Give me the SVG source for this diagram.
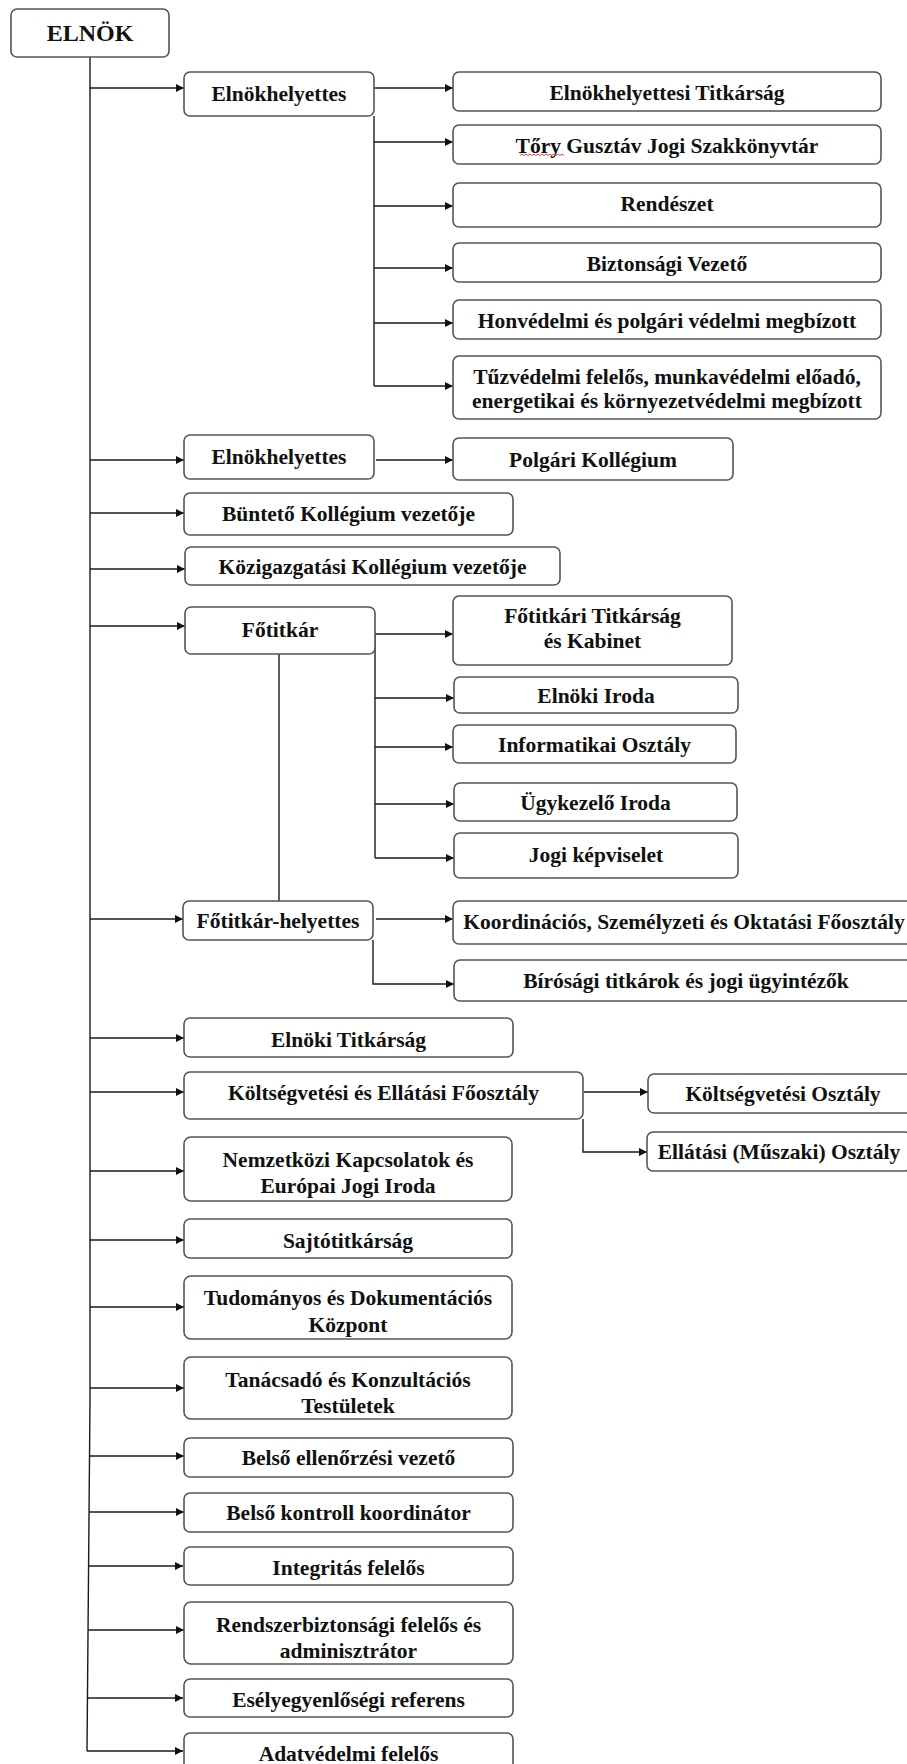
<svg xmlns="http://www.w3.org/2000/svg" width="907" height="1764" viewBox="0 0 907 1764">
<style>
  .b{fill:#fff;stroke:#555;stroke-width:1.6}
  .t{font-family:"Liberation Serif","Times New Roman","DejaVu Serif",serif;font-weight:bold;font-size:21.5px;fill:#111;text-anchor:middle}
  .big{font-size:24px}
  .c{fill:none;stroke:#1a1a1a;stroke-width:1.4}
</style>
<defs>
  <marker id="ah" viewBox="0 0 10 10" refX="10" refY="5" markerWidth="9" markerHeight="8" markerUnits="userSpaceOnUse" orient="auto">
    <path d="M0,0 L10,5 L0,10 z" fill="#111"/>
  </marker>
</defs>
<rect width="907" height="1764" fill="#fff"/>

<g id="connectors">
  <path class="c" d="M90,57 V1400 L87,1751"/>
  <path class="c" d="M90,88 H184" marker-end="url(#ah)"/>
  <path class="c" d="M90,460 H184" marker-end="url(#ah)"/>
  <path class="c" d="M90,513 H184" marker-end="url(#ah)"/>
  <path class="c" d="M90,569 H185" marker-end="url(#ah)"/>
  <path class="c" d="M90,626 H185" marker-end="url(#ah)"/>
  <path class="c" d="M90,919 H183" marker-end="url(#ah)"/>
  <path class="c" d="M90,1038 H184" marker-end="url(#ah)"/>
  <path class="c" d="M90,1092 H184" marker-end="url(#ah)"/>
  <path class="c" d="M90,1171 H184" marker-end="url(#ah)"/>
  <path class="c" d="M90,1240 H184" marker-end="url(#ah)"/>
  <path class="c" d="M90,1307 H184" marker-end="url(#ah)"/>
  <path class="c" d="M90,1388 H184" marker-end="url(#ah)"/>
  <path class="c" d="M89.5,1456 H184" marker-end="url(#ah)"/>
  <path class="c" d="M89,1512 H184" marker-end="url(#ah)"/>
  <path class="c" d="M89,1566 H183" marker-end="url(#ah)"/>
  <path class="c" d="M88,1630 H184" marker-end="url(#ah)"/>
  <path class="c" d="M87,1698 H183" marker-end="url(#ah)"/>
  <path class="c" d="M87,1751 H183" marker-end="url(#ah)"/>

  <path class="c" d="M374,116 V386"/>
  <path class="c" d="M374,88 H453" marker-end="url(#ah)"/>
  <path class="c" d="M374,142 H453" marker-end="url(#ah)"/>
  <path class="c" d="M374,206 H453" marker-end="url(#ah)"/>
  <path class="c" d="M374,268 H453" marker-end="url(#ah)"/>
  <path class="c" d="M374,323 H453" marker-end="url(#ah)"/>
  <path class="c" d="M374,386 H453" marker-end="url(#ah)"/>

  <path class="c" d="M376,460 H453" marker-end="url(#ah)"/>

  <path class="c" d="M279,654 V901"/>
  <path class="c" d="M375,634 V858"/>
  <path class="c" d="M375,634 H453" marker-end="url(#ah)"/>
  <path class="c" d="M375,698 H454" marker-end="url(#ah)"/>
  <path class="c" d="M375,747 H453" marker-end="url(#ah)"/>
  <path class="c" d="M375,804 H454" marker-end="url(#ah)"/>
  <path class="c" d="M375,858 H454" marker-end="url(#ah)"/>

  <path class="c" d="M376,919 H453" marker-end="url(#ah)"/>
  <path class="c" d="M373,940 V984 H454" marker-end="url(#ah)"/>

  <path class="c" d="M584,1092 H648" marker-end="url(#ah)"/>
  <path class="c" d="M583,1119 V1152 H647" marker-end="url(#ah)"/>
</g>

<g id="elnok"><rect class="b" x="11" y="9" width="158" height="48" rx="6"/><text class="t big" x="90" y="41">ELNÖK</text></g>

<g id="elnokhelyettes1"><rect class="b" x="184" y="72" width="190" height="44" rx="6"/><text class="t" x="279" y="101">Elnökhelyettes</text></g>
<g id="eh-titkarsag"><rect class="b" x="453" y="72" width="428" height="39" rx="6"/><text class="t" x="667" y="99.5">Elnökhelyettesi Titkárság</text></g>
<g id="tory"><rect class="b" x="453" y="125" width="428" height="39" rx="6"/><text class="t" x="667" y="152.5">Tőry Gusztáv Jogi Szakkönyvtár</text><path d="M520,155.5 l2,-1.5 l2,1.5 l2,-1.5 l2,1.5 l2,-1.5 l2,1.5 l2,-1.5 l2,1.5 l2,-1.5 l2,1.5 l2,-1.5 l2,1.5 l2,-1.5 l2,1.5 l2,-1.5 l2,1.5 l2,-1.5 l2,1.5 l2,-1.5 l2,1.5 l2,-1.5 l2,1.5" fill="none" stroke="#d03030" stroke-width="0.9"/></g>
<g id="rendeszet"><rect class="b" x="453" y="183" width="428" height="44" rx="6"/><text class="t" x="667" y="211">Rendészet</text></g>
<g id="biztonsagi"><rect class="b" x="453" y="243" width="428" height="39" rx="6"/><text class="t" x="667" y="271">Biztonsági Vezető</text></g>
<g id="honvedelmi"><rect class="b" x="453" y="300" width="428" height="39" rx="6"/><text class="t" x="667" y="328">Honvédelmi és polgári védelmi megbízott</text></g>
<g id="tuzvedelmi"><rect class="b" x="453" y="356" width="428" height="63" rx="6"/><text class="t" x="667" y="384">Tűzvédelmi felelős, munkavédelmi előadó,</text><text class="t" x="667" y="408">energetikai és környezetvédelmi megbízott</text></g>

<g id="elnokhelyettes2"><rect class="b" x="184" y="435" width="190" height="44" rx="6"/><text class="t" x="279" y="464">Elnökhelyettes</text></g>
<g id="polgari"><rect class="b" x="453" y="438" width="280" height="42" rx="6"/><text class="t" x="593" y="467">Polgári Kollégium</text></g>
<g id="bunteto"><rect class="b" x="184" y="493" width="329" height="42" rx="6"/><text class="t" x="348.5" y="521">Büntető Kollégium vezetője</text></g>
<g id="kozigazgatasi"><rect class="b" x="185" y="547" width="375" height="38" rx="6"/><text class="t" x="372.5" y="574">Közigazgatási Kollégium vezetője</text></g>

<g id="fotitkar"><rect class="b" x="185" y="607" width="190" height="47" rx="6"/><text class="t" x="280" y="637">Főtitkár</text></g>
<g id="fotitkari-titkarsag"><rect class="b" x="453" y="596" width="279" height="69" rx="6"/><text class="t" x="592.5" y="623">Főtitkári Titkárság</text><text class="t" x="592.5" y="648">és Kabinet</text></g>
<g id="elnoki-iroda"><rect class="b" x="454" y="677" width="284" height="36" rx="6"/><text class="t" x="596" y="703">Elnöki Iroda</text></g>
<g id="informatikai"><rect class="b" x="453" y="725" width="283" height="38" rx="6"/><text class="t" x="594.5" y="752">Informatikai Osztály</text></g>
<g id="ugykezelo"><rect class="b" x="454" y="783" width="283" height="38" rx="6"/><text class="t" x="595.5" y="810">Ügykezelő Iroda</text></g>
<g id="jogi-kepviselet"><rect class="b" x="454" y="833" width="284" height="45" rx="6"/><text class="t" x="596" y="862">Jogi képviselet</text></g>

<g id="fotitkar-helyettes"><rect class="b" x="183" y="901" width="190" height="39" rx="6"/><text class="t" x="278" y="928">Főtitkár-helyettes</text></g>
<g id="koordinacios"><rect class="b" x="453" y="901" width="462" height="43" rx="6"/><text class="t" x="684" y="929">Koordinációs, Személyzeti és Oktatási Főosztály</text></g>
<g id="birosagi"><rect class="b" x="454" y="960" width="462" height="41" rx="6"/><text class="t" x="686" y="988">Bírósági titkárok és jogi ügyintézők</text></g>

<g id="elnoki-titkarsag"><rect class="b" x="184" y="1018" width="329" height="39" rx="6"/><text class="t" x="348.5" y="1047">Elnöki Titkárság</text></g>
<g id="koltsegvetesi-foosztaly"><rect class="b" x="184" y="1072" width="399" height="47" rx="6"/><text class="t" x="383.5" y="1100">Költségvetési és Ellátási Főosztály</text></g>
<g id="koltsegvetesi-osztaly"><rect class="b" x="648" y="1074" width="270" height="39" rx="6"/><text class="t" x="783" y="1101">Költségvetési Osztály</text></g>
<g id="ellatasi-osztaly"><rect class="b" x="647" y="1132" width="264" height="39" rx="6"/><text class="t" x="779" y="1159">Ellátási (Műszaki) Osztály</text></g>

<g id="nemzetkozi"><rect class="b" x="184" y="1137" width="328" height="64" rx="7"/><text class="t" x="348" y="1167">Nemzetközi Kapcsolatok és</text><text class="t" x="348" y="1193">Európai Jogi Iroda</text></g>
<g id="sajtotitkarsag"><rect class="b" x="184" y="1219" width="328" height="39" rx="6"/><text class="t" x="348" y="1248">Sajtótitkárság</text></g>
<g id="tudomanyos"><rect class="b" x="184" y="1276" width="328" height="63" rx="7"/><text class="t" x="348" y="1305">Tudományos és Dokumentációs</text><text class="t" x="348" y="1332">Központ</text></g>
<g id="tanacsado"><rect class="b" x="184" y="1357" width="328" height="62" rx="7"/><text class="t" x="348" y="1387">Tanácsadó és Konzultációs</text><text class="t" x="348" y="1413">Testületek</text></g>
<g id="belso-ellenorzesi"><rect class="b" x="184" y="1438" width="329" height="39" rx="6"/><text class="t" x="348.5" y="1465">Belső ellenőrzési vezető</text></g>
<g id="belso-kontroll"><rect class="b" x="184" y="1493" width="329" height="39" rx="6"/><text class="t" x="348.5" y="1520">Belső kontroll koordinátor</text></g>
<g id="integritas"><rect class="b" x="184" y="1547" width="329" height="38" rx="6"/><text class="t" x="348.5" y="1575">Integritás felelős</text></g>
<g id="rendszerbiztonsagi"><rect class="b" x="184" y="1602" width="329" height="62" rx="7"/><text class="t" x="348.5" y="1632">Rendszerbiztonsági felelős és</text><text class="t" x="348.5" y="1658">adminisztrátor</text></g>
<g id="eselyegyenlosegi"><rect class="b" x="184" y="1679" width="329" height="38" rx="6"/><text class="t" x="348.5" y="1707">Esélyegyenlőségi referens</text></g>
<g id="adatvedelmi"><rect class="b" x="184" y="1733" width="329" height="45" rx="6"/><text class="t" x="348.5" y="1761">Adatvédelmi felelős</text></g>
</svg>
